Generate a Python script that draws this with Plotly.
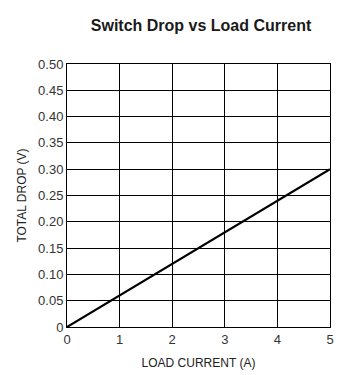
import plotly.graph_objects as go

load_current = [0, 1, 2, 3, 4, 5]
total_drop = [0, 0.06, 0.12, 0.18, 0.24, 0.30]

y_ticks = [0, 0.05, 0.10, 0.15, 0.20, 0.25, 0.30, 0.35, 0.40, 0.45, 0.50]
y_tick_labels = ["0", "0.05", "0.10", "0.15", "0.20", "0.25", "0.30", "0.35", "0.40", "0.45", "0.50"]
x_ticks = [0, 1, 2, 3, 4, 5]

tick_font = dict(family="Liberation Sans, Arial, sans-serif", size=13, color="#333333")
title_font = dict(family="Liberation Sans, Arial, sans-serif", size=12, color="#222222")

fig = go.Figure()
fig.add_trace(go.Scatter(x=load_current, y=total_drop, mode="lines",
                         line=dict(color="black", width=2.2), showlegend=False))

fig.update_layout(
    width=355, height=375,
    margin=dict(l=67, r=25, t=64, b=48),
    paper_bgcolor="white", plot_bgcolor="white",
    title=dict(text="<b>Switch Drop vs Load Current</b>", x=201/355, xanchor="center",
               y=1 - 25/375, yanchor="middle",
               font=dict(family="Liberation Sans, Arial, sans-serif", size=16, color="#1a1a1a")),
    xaxis=dict(range=[0, 5], tickvals=x_ticks, ticktext=[str(v) for v in x_ticks],
               showgrid=True, gridcolor="black", gridwidth=1,
               showline=True, linecolor="black", linewidth=1, mirror=True,
               zeroline=False, ticks="", tickfont=tick_font, automargin=False,
               title=dict(text="LOAD CURRENT (A)", font=title_font, standoff=13)),
    yaxis=dict(range=[0, 0.5], tickvals=y_ticks, ticktext=y_tick_labels,
               showgrid=True, gridcolor="black", gridwidth=1,
               showline=True, linecolor="black", linewidth=1, mirror=True,
               zeroline=False, ticks="", tickfont=tick_font, automargin=False,
               title=dict(text="TOTAL DROP (V)", font=title_font, standoff=8)),
)

fig.write_html("out.html", config={"displayModeBar": False},
               post_script="document.body.style.margin='0';window.dispatchEvent(new Event('resize'));")
